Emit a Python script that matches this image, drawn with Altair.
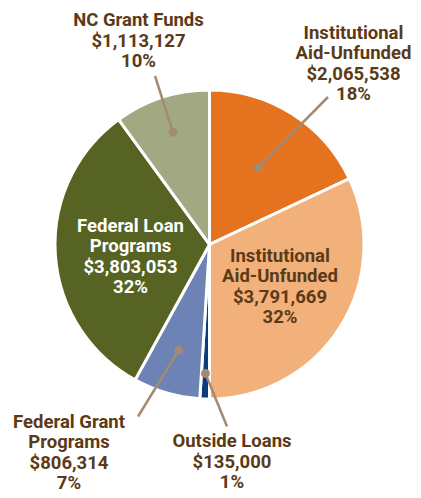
import altair as alt
import pandas as pd
import numpy as np

# ---- data ----
keys = ["inst_a", "inst_b", "outside", "fed_grant", "fed_loan", "nc_grant"]
label_lines = [
    ["Institutional", "Aid-Unfunded"],
    ["Institutional", "Aid-Unfunded"],
    ["Outside Loans"],
    ["Federal Grant", "Programs"],
    ["Federal Loan", "Programs"],
    ["NC Grant Funds"],
]
amounts = [2065538, 3791669, 135000, 806314, 3803053, 1113127]
percents = [18, 32, 1, 7, 32, 10]

# ---- styles / layout (kept separate from data) ----
slice_colors = ["#E5721F", "#F2B07B", "#0A3D7A", "#6D83B5", "#566323", "#A2A982"]
text_colors = ["#5B3A17", "#5B3A17", "#5B3A17", "#5B3A17", "#FFFFFF", "#5B3A17"]
# label anchor (centre x, top y) relative to pie centre, pixels (y down)
label_dx = [144, 70.5, 22.5, -140.5, -79, -71]
label_dy = [-221, 2, 187.5, 168, -28, -233.3]
# leader lines: dot radius and end point offsets (None = inside label)
dot_r = [91, None, 129, 110, None, 118]
end_dx = [118.5, None, 17.5, -71.5, None, -54.5]
end_dy = [-147.5, None, 182, 172, None, -168.5]

W, H = 405, 482
CX, CY = 201.5, 236.5
R = 153

text = [
    "\n".join(lines + ["${:,}".format(a), "{}%".format(p)])
    for lines, a, p in zip(label_lines, amounts, percents)
]

df = pd.DataFrame({
    "key": keys,
    "order": list(range(len(keys))),
    "pct": percents,
    "amount": amounts,
    "label": text,
    "tcolor": text_colors,
    "lx": label_dx,
    "ly": label_dy,
})

# mid angle of each slice from the data (clockwise from 12 o'clock)
cum = np.cumsum(percents)
start = cum - np.array(percents)
mid = (start + np.array(percents) / 2) / sum(percents) * 2 * np.pi

lead_rows = []
for i in range(len(keys)):
    if dot_r[i] is None:
        continue
    r = dot_r[i]
    lead_rows.append({
        "key": keys[i],
        "x1": r * np.sin(mid[i]),
        "y1": -r * np.cos(mid[i]),
        "x2": end_dx[i],
        "y2": end_dy[i],
    })
lead = pd.DataFrame(lead_rows)

xs = alt.Scale(domain=[-CX, W - CX], range=[0, W], zero=False, nice=False)
ys = alt.Scale(domain=[-CY, H - CY], range=[0, H], zero=False, nice=False)

pie = alt.Chart(df).mark_arc(
    outerRadius=R + 1.5, stroke="white", strokeWidth=3
).encode(
    theta=alt.Theta("pct:Q", stack=True),
    order=alt.Order("order:Q"),
    color=alt.Color("key:N", scale=alt.Scale(domain=keys, range=slice_colors), legend=None),
    x=alt.value(CX),
    y=alt.value(CY),
)

leaders = alt.Chart(lead).mark_rule(color="#A38B73", strokeWidth=2.5).encode(
    x=alt.X("x1:Q", scale=xs, axis=None),
    y=alt.Y("y1:Q", scale=ys, axis=None),
    x2="x2:Q",
    y2="y2:Q",
)

dots = alt.Chart(lead).mark_circle(color="#A38B73", opacity=1, size=80).encode(
    x=alt.X("x1:Q", scale=xs, axis=None),
    y=alt.Y("y1:Q", scale=ys, axis=None),
)

labels = alt.Chart(df).mark_text(
    font="Roboto", fontWeight="bold", fontSize=18.5, lineHeight=20.5,
    baseline="top", align="center", lineBreak="\n",
).encode(
    x=alt.X("lx:Q", scale=xs, axis=None),
    y=alt.Y("ly:Q", scale=ys, axis=None),
    text="label:N",
    color=alt.Color("tcolor:N", scale=None),
)

chart = alt.layer(pie, leaders, dots, labels).properties(
    width=W, height=H, autosize=alt.AutoSizeParams(type="none"), padding=0
).configure_view(stroke=None)

chart.save("out.html", embed_options={"renderer": "svg", "actions": False})
